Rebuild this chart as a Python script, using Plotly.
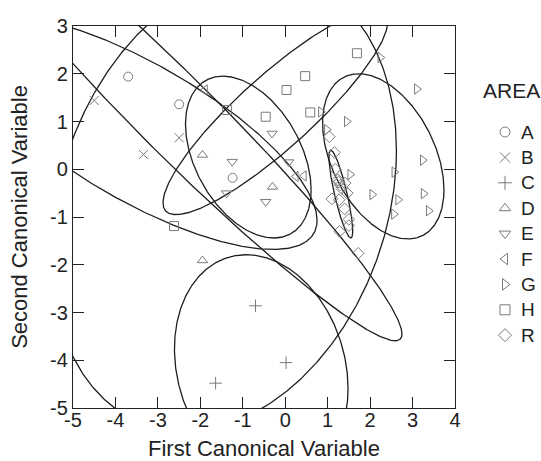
import numpy as np
import plotly.graph_objects as go

# ---- marker data (First, Second canonical variable) ----
groups = ["A", "B", "C", "D", "E", "F", "G", "H", "R"]

A_x = [-3.70, -2.50, -1.24]
A_y = [1.94, 1.36, -0.18]
B_x = [-4.50, -2.50, -3.34]
B_y = [1.44, 0.66, 0.31]
C_x = [-0.70, 0.02, -1.64]
C_y = [-2.86, -4.05, -4.48]
D_x = [-1.95, -0.30, -1.95]
D_y = [0.30, -0.37, -1.91]
E_x = [-1.25, -1.38, -0.31, -0.46, 0.08]
E_y = [0.16, -0.50, 0.75, -0.68, 0.15]
F_x = [-1.89, 0.25, 0.44]
F_y = [1.66, -0.15, -0.14]
G_x = [2.24, 3.10, 0.84, 1.45, 0.98, 3.24, 2.57, 1.53, 2.05, 3.26, 2.66, 3.38, 2.56]
G_y = [2.34, 1.68, 1.20, 1.00, 0.83, 0.19, -0.06, -0.11, -0.53, -0.51, -0.64, -0.87, -0.94]
H_x = [1.69, 0.47, 0.03, -0.46, 0.59, -1.37, -2.62]
H_y = [2.43, 1.95, 1.66, 1.10, 1.19, 1.24, -1.19]
R_x = [1.04, 1.16, 1.18, 1.24, 1.30, 1.26, 1.41, 1.33, 1.46, 1.10, 1.27, 1.40, 1.50, 1.50, 1.28, 1.72]
R_y = [0.68, 0.35, 0.00, -0.22, -0.33, -0.27, -0.29, -0.40, -0.50, -0.62, -0.64, -0.83, -1.05, -1.18, -1.30, -1.76]

xs = [A_x, B_x, C_x, D_x, E_x, F_x, G_x, H_x, R_x]
ys = [A_y, B_y, C_y, D_y, E_y, F_y, G_y, H_y, R_y]
symbols = ["circle-open", "x-thin-open", "cross-thin-open", "triangle-up-open",
           "triangle-down-open", "triangle-left-open", "triangle-right-open",
           "square-open", "diamond-open"]

# ---- ellipse parameters per area: centre, spread in x / y, correlation ----
ell_groups = ["A", "B", "C", "D", "E", "G", "H", "R"]
ell_cx = [-2.48, -3.44, -0.565, -1.45, -0.87, 2.31, -0.23, 1.31]
ell_cy = [1.048, 0.77, -4.175, -0.69, 0.255, 0.27, 1.20, -0.52]
ell_sx = [5.23, 4.19, 2.045, 4.07, 1.48, 1.43, 2.65, 0.28]
ell_sy = [4.641, 2.45, 2.385, 4.80, 1.695, 1.73, 2.15, 0.92]
ell_r = [-0.969, -0.751, -0.174, 0.226, -0.405, -0.405, 0.884, -0.84]

# ---- tick labels ----
x_ticks = [-5, -4, -3, -2, -1, 0, 1, 2, 3, 4]
x_labels = ["-5", "-4", "-3", "-2", "-1", "0", "1", "2", "3", "4"]
y_ticks = [-5, -4, -3, -2, -1, 0, 1, 2, 3]
y_labels = ["-5", "-4", "-3", "-2", "-1", "0", "1", "2", "3"]

FONT = "Liberation Sans, Arial, sans-serif"
MK = "#7a7a7a"
INK = "#222"

# page geometry (pixels)
W, H = 541, 461
ML, MT, MB = 73, 26, 53
PLOT_W = 382
DOM = PLOT_W / (W - ML)          # main plot's share of the paper width

# key layout, in the key panel's pixel units
KEY_SYM_X, KEY_TXT_X, KEY_TITLE_X = 505, 519, 481
KEY_TITLE_Y, KEY_TOP, KEY_STEP = 90, 132, 25.4

fig = go.Figure()

t = np.linspace(0, 2 * np.pi, 721)
for g, cx, cy, sx, sy, r in zip(ell_groups, ell_cx, ell_cy, ell_sx, ell_sy, ell_r):
    ex = cx + sx * np.cos(t)
    ey = cy + sy * (r * np.cos(t) + np.sqrt(1 - r * r) * np.sin(t))
    fig.add_trace(go.Scatter(x=ex, y=ey, mode="lines", showlegend=False,
                             line=dict(color="#1e1e1e", width=1.3),
                             hoverinfo="skip", name=g + " ellipse"))

for g, x, y, s in zip(groups, xs, ys, symbols):
    fig.add_trace(go.Scatter(x=x, y=y, mode="markers", name=g, showlegend=False,
                             marker=dict(symbol=s, size=9, color=MK,
                                         line=dict(color=MK, width=1))))

# key panel: one symbol and letter per area
key_y = [KEY_TOP + i * KEY_STEP for i in range(len(groups))]
fig.add_trace(go.Scatter(x=[KEY_SYM_X] * len(groups), y=key_y, mode="markers",
                         xaxis="x2", yaxis="y2", cliponaxis=False, showlegend=False,
                         hoverinfo="skip",
                         marker=dict(symbol=symbols, size=10, color=MK,
                                     line=dict(color=MK, width=1))))
for g, yy in zip(groups, key_y):
    fig.add_annotation(text=g, xref="x2", yref="y2", x=KEY_TXT_X, y=yy,
                       xanchor="left", yanchor="middle", showarrow=False,
                       font=dict(family=FONT, size=19, color=INK))
fig.add_annotation(text="AREA", xref="x2", yref="y2", x=KEY_TITLE_X, y=KEY_TITLE_Y,
                   xanchor="left", yanchor="middle", showarrow=False,
                   font=dict(family=FONT, size=21, color=INK))

axis_common = dict(showline=True, linecolor=INK, linewidth=1.3, mirror="ticks",
                   ticks="inside", ticklen=11, tickwidth=1.3, tickcolor=INK,
                   showgrid=False, zeroline=False, automargin=False,
                   tickfont=dict(family=FONT, size=20, color=INK),
                   title_font=dict(family=FONT, size=22, color=INK))

fig.update_layout(
    xaxis=dict(domain=[0, DOM], anchor="y", range=[-5, 4], tickmode="array",
               tickvals=x_ticks, ticktext=x_labels,
               title=dict(text="First Canonical Variable", standoff=12), **axis_common),
    yaxis=dict(domain=[0, 1], anchor="x", range=[-5, 3], tickmode="array",
               tickvals=y_ticks, ticktext=y_labels,
               title=dict(text="Second Canonical Variable", standoff=16), **axis_common),
    xaxis2=dict(domain=[DOM, 1], anchor="y2", range=[ML + PLOT_W, W],
                visible=False, fixedrange=True),
    yaxis2=dict(domain=[0, 1], anchor="x2", range=[H - MB, MT],
                visible=False, fixedrange=True),
    width=W, height=H,
    margin=dict(l=ML, r=0, t=MT, b=MB),
    paper_bgcolor="white", plot_bgcolor="white",
    font=dict(family=FONT, size=17, color=INK),
    showlegend=False,
)
try:
    fig.update_layout(xaxis_ticklabelstandoff=-6, yaxis_ticklabelstandoff=0)
except Exception:
    pass

# remove the page's default body margin so the figure fills the window exactly
fig.write_html("out.html", config={"displayModeBar": False},
               post_script="document.body.style.margin='0px';document.body.style.overflow='hidden';")
